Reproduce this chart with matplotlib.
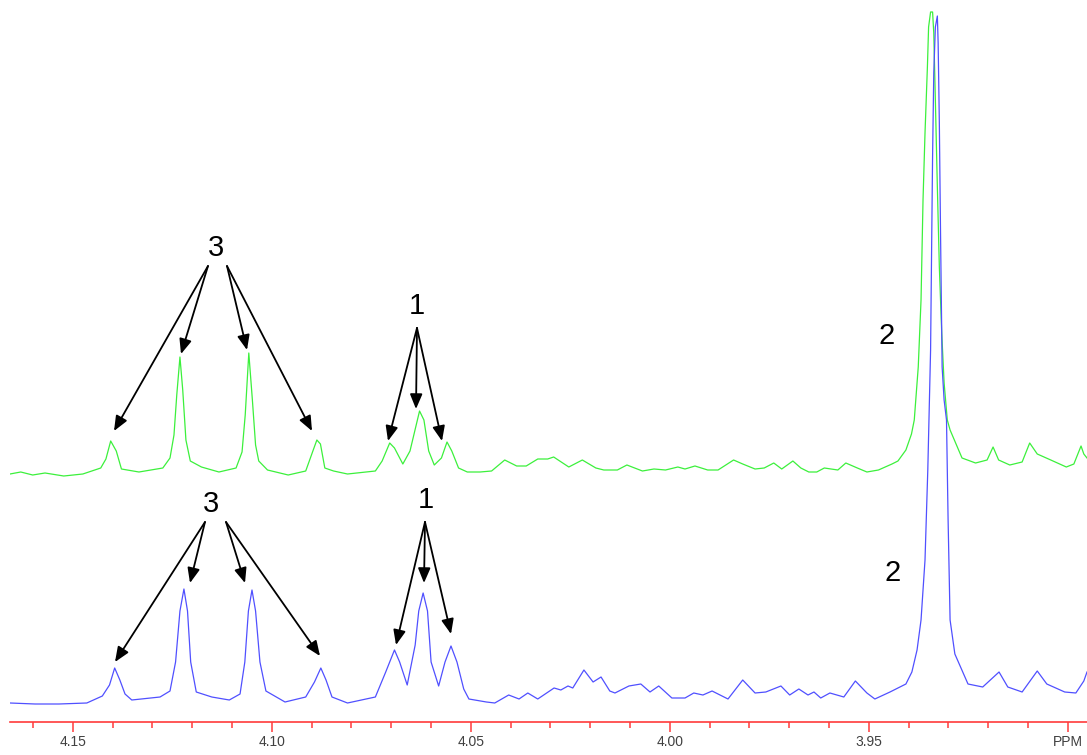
import matplotlib
matplotlib.use("Agg")
import matplotlib.pyplot as plt
from matplotlib.ticker import FixedLocator, MultipleLocator

# 1H NMR spectra, intensity (arbitrary units above each baseline)
blue_ppm = [4.1658, 4.1595, 4.1535, 4.1465, 4.1426, 4.1408, 4.1395, 4.1382, 4.1369, 4.1352,
            4.1281, 4.1256, 4.1242, 4.1231, 4.1221, 4.1212, 4.1204, 4.1190, 4.1151, 4.1107,
            4.1080, 4.1068, 4.1059, 4.1050, 4.1041, 4.1030, 4.1015, 4.0967, 4.0915, 4.0893,
            4.0877, 4.0864, 4.0849, 4.0810, 4.0740, 4.0714, 4.0692, 4.0679, 4.0660, 4.0640,
            4.0631, 4.0620, 4.0609, 4.0600, 4.0581, 4.0565, 4.0550, 4.0535, 4.0518, 4.0505,
            4.0461, 4.0440, 4.0405, 4.0379, 4.0357, 4.0332, 4.0291, 4.0274, 4.0256, 4.0244,
            4.0216, 4.0193, 4.0173, 4.0151, 4.0138, 4.0103, 4.0073, 4.0050, 4.0028, 3.9995,
            3.9962, 3.9940, 3.9917, 3.9894, 3.9854, 3.9817, 3.9786, 3.9759, 3.9721, 3.9699,
            3.9676, 3.9653, 3.9638, 3.9621, 3.9598, 3.9563, 3.9534, 3.9505, 3.9485, 3.9447,
            3.9407, 3.9392, 3.9379, 3.9369, 3.9359, 3.9352, 3.9345, 3.9342, 3.9340, 3.9337,
            3.9333, 3.9328, 3.9326, 3.9323, 3.9320, 3.9316, 3.9311, 3.9305, 3.9301, 3.9296,
            3.9284, 3.9251, 3.9214, 3.9173, 3.9151, 3.9115, 3.9077, 3.9053, 3.9008, 3.8980,
            3.8960, 3.8952]
blue_int = [0, -1, -1, 0, 7, 18, 35, 23, 9, 3,
            6, 12, 41, 92, 114, 92, 41, 11, 6, 3,
            9, 41, 92, 113, 92, 41, 12, 1, 6, 21,
            35, 23, 6, 0, 6, 31, 53, 41, 18, 58,
            92, 110, 92, 41, 17, 41, 57, 41, 14, 4,
            1, 0, 8, 4, 10, 4, 15, 13, 17, 15,
            33, 21, 26, 12, 10, 17, 19, 11, 17, 5,
            5, 10, 8, 12, 4, 23, 10, 11, 17, 8,
            14, 8, 11, 5, 10, 6, 22, 10, 4, 11,
            19, 31, 53, 83, 143, 233, 353, 470, 546, 630,
            676, 687, 660, 580, 470, 336, 303, 283, 183, 83,
            49, 19, 16, 31, 16, 11, 32, 19, 11, 10,
            22, 31]

green_ppm = [4.1658, 4.1631, 4.1601, 4.1570, 4.1523, 4.1475, 4.1430, 4.1417, 4.1405, 4.1391,
             4.1378, 4.1334, 4.1274, 4.1256, 4.1246, 4.1239, 4.1231, 4.1224, 4.1216, 4.1205,
             4.1177, 4.1133, 4.1090, 4.1075, 4.1067, 4.1058, 4.1049, 4.1041, 4.1033, 4.1011,
             4.0959, 4.0915, 4.0897, 4.0887, 4.0878, 4.0867, 4.0845, 4.0810, 4.0740, 4.0723,
             4.0704, 4.0692, 4.0671, 4.0653, 4.0629, 4.0618, 4.0606, 4.0592, 4.0574, 4.0560,
             4.0548, 4.0531, 4.0509, 4.0477, 4.0448, 4.0415, 4.0385, 4.0361, 4.0332, 4.0307,
             4.0292, 4.0254, 4.0220, 4.0186, 4.0166, 4.0132, 4.0108, 4.0069, 4.0040, 4.0011,
             3.9980, 3.9962, 3.9937, 3.9905, 3.9879, 3.9840, 3.9817, 3.9786, 3.9763, 3.9739,
             3.9719, 3.9691, 3.9671, 3.9651, 3.9631, 3.9612, 3.9578, 3.9558, 3.9529, 3.9505,
             3.9476, 3.9442, 3.9427, 3.9407, 3.9393, 3.9386, 3.9376, 3.9369, 3.9364, 3.9359,
             3.9353, 3.9350, 3.9345, 3.9340, 3.9337, 3.9333, 3.9328, 3.9323, 3.9317, 3.9311,
             3.9303, 3.9296, 3.9266, 3.9232, 3.9203, 3.9188, 3.9174, 3.9146, 3.9115, 3.9096,
             3.9077, 3.9043, 3.9004, 3.8985, 3.8967, 3.8960, 3.8952]
green_int = [-1, 1, -2, 0, -3, -1, 5, 14, 32, 22,
             4, 1, 5, 15, 38, 78, 116, 83, 33, 12,
             6, 1, 5, 21, 58, 120, 73, 28, 12, 3,
             -2, 2, 22, 33, 29, 5, 2, -1, 2, 12,
             30, 25, 9, 22, 62, 53, 22, 8, 15, 31,
             22, 5, 1, 1, 2, 13, 7, 7, 14, 14,
             16, 6, 13, 5, 3, 3, 8, 2, 4, 3,
             6, 4, 7, 3, 3, 13, 9, 4, 5, 10,
             4, 12, 5, 1, 1, 5, 3, 10, 5, 1,
             3, 9, 12, 23, 39, 53, 106, 173, 273, 340,
             406, 446, 461, 461, 440, 373, 286, 206, 140, 90,
             53, 43, 15, 10, 13, 26, 13, 8, 11, 30,
             19, 13, 6, 9, 27, 19, 15]

major_ticks = [4.15, 4.10, 4.05, 4.00, 3.95, 3.90]
major_labels = ["4.15", "4.10", "4.05", "4.00", "3.95", "PPM"]

W, H = 1087, 755
blue_offset = 19
green_offset = 249


def px(x, y):
    # pixel position -> figure fraction
    return (x / W, 1 - y / H)


fig = plt.figure(figsize=(W / 100, H / 100), dpi=100)
ax = fig.add_axes([10 / W, 33 / H, 1077 / W, 722 / H])

ax.plot(green_ppm, [v + green_offset for v in green_int], color="#3cf03c", lw=0.9)
ax.plot(blue_ppm, [v + blue_offset for v in blue_int], color="#5050ff", lw=0.9)

ax.set_xlim(4.1658, 3.8952)
ax.set_ylim(0, 722)

for s in ["top", "left", "right"]:
    ax.spines[s].set_visible(False)
ax.spines["bottom"].set_color("#ff3b3b")
ax.spines["bottom"].set_linewidth(1.2)
ax.set_yticks([])
ax.xaxis.set_major_locator(FixedLocator(major_ticks))
ax.xaxis.set_minor_locator(MultipleLocator(0.01))
ax.set_xticklabels(major_labels, fontsize=10, color="#404040", family="Liberation Sans")
ax.tick_params(axis="x", which="major", direction="out", length=7, width=1.1,
               color="#ff3b3b", pad=2)
ax.tick_params(axis="x", which="minor", direction="out", length=4, width=1.1,
               color="#ff3b3b")

# peak labels
labels = [("3", 216, 248), ("1", 417, 306), ("2", 887, 336),
          ("3", 211, 504), ("1", 426, 500), ("2", 893, 573)]
for t, x, y in labels:
    fig.text(*px(x, y), t, ha="center", va="center", fontsize=21,
             family="Liberation Sans", color="black")

# arrows: (start, tip)
arrows = [((208, 266), (114, 431)), ((208, 266), (181, 354)),
          ((227, 266), (247, 350)), ((227, 266), (312, 431)),
          ((417, 328), (388, 441)), ((417, 328), (416, 409)), ((417, 328), (442, 441)),
          ((205, 522), (115, 662)), ((205, 522), (190, 583)),
          ((226, 522), (245, 583)), ((226, 522), (320, 656)),
          ((425, 522), (396, 645)), ((425, 522), (424, 583)), ((425, 522), (451, 634))]
for (x0, y0), (x1, y1) in arrows:
    ax.annotate("", xy=px(x1, y1), xycoords="figure fraction",
                xytext=px(x0, y0), textcoords="figure fraction",
                arrowprops=dict(arrowstyle="-|>,head_length=0.6,head_width=0.25",
                                mutation_scale=15, color="black", lw=1.3,
                                shrinkA=0, shrinkB=0))

fig.savefig("out.png", dpi=100)
